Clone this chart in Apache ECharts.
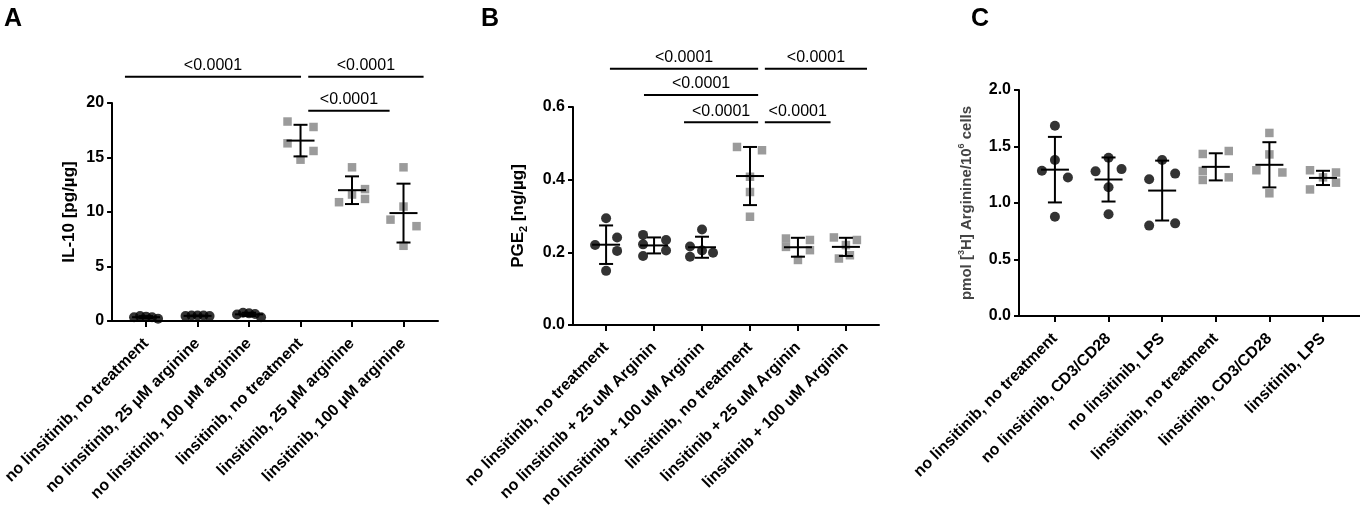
<!DOCTYPE html>
<html>
<head>
<meta charset="utf-8">
<script src="https://cdn.jsdelivr.net/npm/echarts@6/dist/echarts.min.js"></script>
<style>
  html, body { margin: 0; padding: 0; background: #fff; }
  #chart { width: 1360px; height: 513px; }
</style>
</head>
<body>
<div id="chart"></div>
<script>
// ---- data ----
var catsA = ['no linsitinib, no treatment', 'no linsitinib, 25 \u03bcM arginine', 'no linsitinib, 100 \u03bcM arginine',
             'linsitinib, no treatment', 'linsitinib, 25 \u03bcM arginine', 'linsitinib, 100 \u03bcM arginine'];
var catsB = ['no linsitinib, no treatment', 'no linsitinib + 25 uM Arginin', 'no linsitinib + 100 uM Arginin',
             'linsitinib, no treatment', 'linsitinib + 25 uM Arginin', 'linsitinib + 100 uM Arginin'];
var catsC = ['no linsitinib, no treatment', 'no linsitinib, CD3/CD28', 'no linsitinib, LPS',
             'linsitinib, no treatment', 'linsitinib, CD3/CD28', 'linsitinib, LPS'];

// IL-10 [pg/ug], 5 replicates per group
var valuesA = [
    [0.35, 0.45, 0.4, 0.35, 0.2],
    [0.45, 0.5, 0.5, 0.5, 0.45],
    [0.6, 0.75, 0.7, 0.65, 0.35],
    [18.3, 17.8, 16.3, 15.6, 14.8],
    [14.1, 12.1, 11.6, 11.2, 10.9],
    [14.1, 10.5, 9.3, 8.7, 6.9]
];
var meanA = [0.35, 0.47, 0.61, 16.55, 12.0, 9.9];
var sdA = [0.1, 0.03, 0.15, 1.45, 1.27, 2.7];

// PGE2 [ng/ug]
var valuesB = [
    [0.294, 0.241, 0.220, 0.204, 0.149],
    [0.248, 0.222, 0.190, 0.234, 0.205],
    [0.263, 0.216, 0.188, 0.205, 0.199],
    [0.490, 0.481, 0.408, 0.366, 0.298],
    [0.238, 0.234, 0.215, 0.206, 0.179],
    [0.241, 0.234, 0.220, 0.192, 0.183]
];
var meanB = [0.221, 0.219, 0.214, 0.410, 0.214, 0.215];
var sdB = [0.053, 0.022, 0.029, 0.080, 0.026, 0.025];

// pmol [3H] Arginine / 10^6 cells
var valuesC = [
    [1.684, 1.38, 1.286, 1.226, 0.878],
    [1.40, 1.28, 1.30, 1.14, 0.90],
    [1.38, 1.26, 1.21, 0.82, 0.80],
    [1.434, 1.283, 1.204, 1.46, 1.227],
    [1.62, 1.43, 1.086, 1.29, 1.27],
    [1.29, 1.12, 1.227, 1.27, 1.18]
];
var meanC = [1.295, 1.208, 1.11, 1.32, 1.338, 1.222];
var sdC = [0.29, 0.195, 0.265, 0.12, 0.2, 0.063];

// significance brackets: [from group, to group, height]
var bracketsA = [[-0.41, 3.01, 22.4], [3.15, 5.39, 22.4], [3.15, 4.73, 19.3]];
var bracketsB = [[0.08, 3.17, 0.705], [3.31, 5.44, 0.705], [0.79, 3.17, 0.633], [1.625, 3.17, 0.558], [3.31, 4.68, 0.558]];
var pLabel = '<0.0001';

// horizontal scatter of the replicates, pixels (layout only)
var jitterA = [[-12, -6, 0, 6, 12], [-12, -6, 0, 6, 12], [-12, -6, 0, 6, 12], [-13, 13, -13, 13, 0], [0, 13, 0, 13, -13], [0, 0, -13, 13, 0]];
var jitterB = [[0, 11, -11, 11, 0], [-11, -11, -11, 12, 12], [0, -12, -12, 0, 11], [-13, 12, 0, 0, 0], [-12, 12, -12, 12, 0], [-12, 11, 0, 4, -7]];
var jitterC = [[0, 0, -13, 13, 0], [0, -13, 13, 0, 0], [0, 13, -13, 13, -13], [-13, -13, -13, 13, 13], [0, 0, 0, -13, 13], [-13, -13, 0, 13, 13]];

var FONT = 'Liberation Sans, Arial, sans-serif';
var GRAY = '#828282';

var dom = document.getElementById('chart');
var myChart = echarts.init(dom, null, { renderer: 'canvas' });

function points(values, jitter, groups) {
    var out = [];
    groups.forEach(function (g) {
        values[g].forEach(function (v, k) {
            out.push({ value: [g, v], symbolOffset: [jitter[g][k], 0] });
        });
    });
    return out;
}

function renderErrorBar(params, api) {
    var i = api.value(0), m = api.value(1), s = api.value(2);
    var hi = api.coord([i, m + s]);
    var lo = api.coord([i, m - s]);
    var mid = api.coord([i, m]);
    var st = { stroke: '#000', lineWidth: 2 };
    var cap = 7, half = 14;
    return {
        type: 'group',
        children: [
            { type: 'line', shape: { x1: hi[0], y1: hi[1], x2: lo[0], y2: lo[1] }, style: st },
            { type: 'line', shape: { x1: hi[0] - cap, y1: hi[1], x2: hi[0] + cap, y2: hi[1] }, style: st },
            { type: 'line', shape: { x1: lo[0] - cap, y1: lo[1], x2: lo[0] + cap, y2: lo[1] }, style: st },
            { type: 'line', shape: { x1: mid[0] - half, y1: mid[1], x2: mid[0] + half, y2: mid[1] }, style: st }
        ]
    };
}

function renderBracket(params, api) {
    var a = api.coord([api.value(0), api.value(2)]);
    var b = api.coord([api.value(1), api.value(2)]);
    return {
        type: 'group',
        children: [
            { type: 'line', shape: { x1: a[0], y1: a[1], x2: b[0], y2: b[1] }, style: { stroke: '#000', lineWidth: 2 } },
            { type: 'text', style: { text: pLabel, x: (a[0] + b[0]) / 2, y: a[1] - 3, align: 'center', verticalAlign: 'bottom',
                                     font: '16px ' + FONT, fill: '#000' } }
        ]
    };
}

function xAxisFor(idx, cats, min, max) {
    return {
        gridIndex: idx,
        type: 'value',
        min: min,
        max: max,
        axisLine: { onZero: false, lineStyle: { color: '#000', width: 2 } },
        axisTick: { show: true, customValues: [0, 1, 2, 3, 4, 5], length: 6, lineStyle: { color: '#000', width: 2 } },
        axisLabel: {
            customValues: [0, 1, 2, 3, 4, 5],
            rotate: 45,
            margin: 20,
            color: '#000',
            fontFamily: FONT,
            fontWeight: 'bold',
            fontSize: 16,
            formatter: function (v) { return cats[Math.round(v)]; }
        },
        splitLine: { show: false }
    };
}

function yAxisFor(idx, max, interval, digits, name, nameGap, nameTextStyle) {
    return {
        gridIndex: idx,
        type: 'value',
        min: 0,
        max: max,
        interval: interval,
        name: name,
        nameLocation: 'middle',
        nameGap: nameGap,
        nameTextStyle: nameTextStyle,
        axisLine: { show: true, onZero: false, lineStyle: { color: '#000', width: 2 } },
        axisTick: { show: true, length: 5, lineStyle: { color: '#000', width: 2 } },
        axisLabel: {
            margin: 8,
            color: '#000',
            fontFamily: FONT,
            fontWeight: 'bold',
            fontSize: 16,
            formatter: function (v) { return v.toFixed(digits); }
        },
        splitLine: { show: false }
    };
}

function panelSeries(idx, values, jitter, mean, sd, brackets) {
    var list = [
        {
            name: 'no linsitinib', type: 'scatter', xAxisIndex: idx, yAxisIndex: idx,
            symbol: 'circle', symbolSize: 10, itemStyle: { color: '#000' },
            data: points(values, jitter, [0, 1, 2]), z: 2
        },
        {
            name: 'linsitinib', type: 'scatter', xAxisIndex: idx, yAxisIndex: idx,
            symbol: 'rect', symbolSize: 8.5, itemStyle: { color: GRAY },
            data: points(values, jitter, [3, 4, 5]), z: 2
        },
        {
            type: 'custom', xAxisIndex: idx, yAxisIndex: idx, renderItem: renderErrorBar, z: 3,
            data: mean.map(function (m, i) { return [i, m, sd[i]]; })
        }
    ];
    if (brackets) {
        list.push({
            type: 'custom', xAxisIndex: idx, yAxisIndex: idx, renderItem: renderBracket, clip: false, z: 3,
            data: brackets
        });
    }
    return list;
}

var nameBold = { color: '#000', fontFamily: FONT, fontWeight: 'bold', fontSize: 17 };

option = {
    backgroundColor: '#fff',
    animation: false,
    title: [
        { text: 'A', left: -1, top: 2, textStyle: { fontFamily: FONT, fontWeight: 'bold', fontSize: 25, color: '#000' } },
        { text: 'B', left: 476, top: 2, textStyle: { fontFamily: FONT, fontWeight: 'bold', fontSize: 25, color: '#000' } },
        { text: 'C', left: 966, top: 2, textStyle: { fontFamily: FONT, fontWeight: 'bold', fontSize: 25, color: '#000' } }
    ],
    grid: [
        { left: 110, top: 103, width: 328, height: 218 },
        { left: 573, top: 107, width: 306, height: 218 },
        { left: 1019, top: 90, width: 341, height: 226 }
    ],
    xAxis: [
        xAxisFor(0, catsA, -0.66, 5.67),
        xAxisFor(1, catsB, -0.69, 5.69),
        xAxisFor(2, catsC, -0.67, 5.69)
    ],
    yAxis: [
        yAxisFor(0, 20, 5, 0, 'IL-10 [pg/\u00b5g]', 34, nameBold),
        yAxisFor(1, 0.6, 0.2, 1, '{n|PGE}{s|2}{n| [ng/\u00b5g]}', 44, {
            rich: {
                n: { color: '#000', fontFamily: FONT, fontWeight: 'bold', fontSize: 17, lineHeight: 22 },
                s: { color: '#000', fontFamily: FONT, fontWeight: 'bold', fontSize: 11, verticalAlign: 'bottom', lineHeight: 22 }
            }
        }),
        yAxisFor(2, 2.0, 0.5, 1, '{n|pmol [}{s|3}{n|H] Arginine/10}{s|6}{n| cells}', 42, {
            rich: {
                n: { color: '#444', fontFamily: FONT, fontWeight: 'bold', fontSize: 15, lineHeight: 20 },
                s: { color: '#444', fontFamily: FONT, fontWeight: 'bold', fontSize: 9, verticalAlign: 'top', lineHeight: 20 }
            }
        })
    ],
    series: [].concat(
        panelSeries(0, valuesA, jitterA, meanA, sdA, bracketsA),
        panelSeries(1, valuesB, jitterB, meanB, sdB, bracketsB),
        panelSeries(2, valuesC, jitterC, meanC, sdC, null)
    )
};

if (option && typeof option === 'object') {
    myChart.setOption(option, true);
}
</script>
</body>
</html>
